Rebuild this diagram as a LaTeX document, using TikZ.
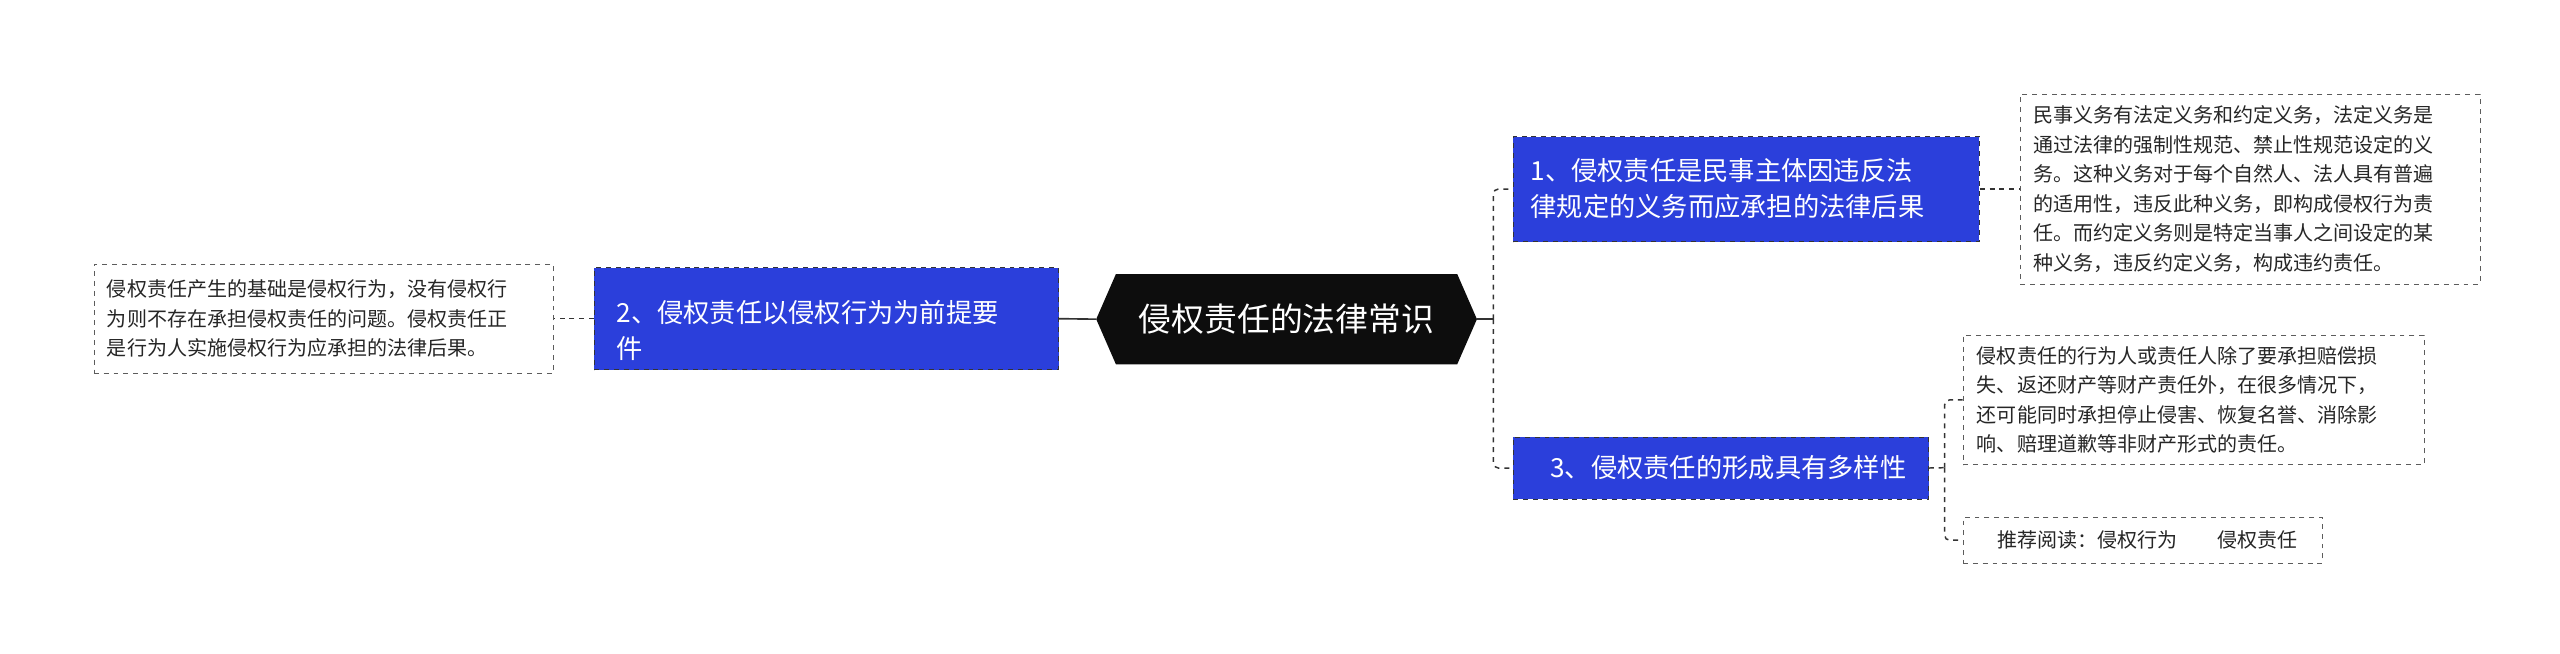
\documentclass[tikz,border=0pt]{standalone}
\usepackage{fontspec}
\setmainfont{Noto Sans CJK SC}
\usetikzlibrary{positioning}
\definecolor{bl}{HTML}{2B3FDB}
\definecolor{ln}{HTML}{333333}
\begin{document}
\begin{tikzpicture}[x=1pt,y=-1pt,
  blue/.style={draw=ln,dashed,fill=bl,text=white,font=\fontsize{16}{22}\selectfont,align=left,anchor=north west,inner sep=0pt},
  leaf/.style={draw=ln!80,dashed,fill=white,text=black!85,font=\fontsize{12.2}{18}\selectfont,align=left,anchor=north west,inner sep=0pt},
  con/.style={draw=ln,dashed,line width=0.9pt}]
\useasboundingbox (0,0) rectangle (1560,398);
% center
\fill[black!95] (680,167)--(888,167)--(900,194.5)--(888,222)--(680,222)--(668,194.5)--cycle;
\node[text=white,font=\fontsize{20}{24}\selectfont] (c) at (784,194.5) {侵权责任的法律常识};
\coordinate (cl) at (668,194.5); \coordinate (cr) at (900,194.5);
% left
\node[blue,minimum width=283pt,minimum height=62pt,text width=270pt,text depth=0pt] (b2) at (362,163) {\hspace*{7pt}\parbox{266pt}{2、侵权责任以侵权行为为前提要\\件}};
\node[leaf,minimum width=280pt,minimum height=66pt] (l2) at (57,161) {\hspace*{6pt}\parbox{270pt}{侵权责任产生的基础是侵权行为，没有侵权行\\为则不存在承担侵权责任的问题。侵权责任正\\是行为人实施侵权行为应承担的法律后果。}};
% right
\node[blue,minimum width=284pt,minimum height=64pt] (b1) at (922,83) {\hspace*{9pt}\parbox{272pt}{1、侵权责任是民事主体因违反法\\律规定的义务而应承担的法律后果}};
\node[leaf,minimum width=280pt,minimum height=116pt] (l1) at (1231,57) {\hspace*{6pt}\parbox{270pt}{民事义务有法定义务和约定义务，法定义务是\\通过法律的强制性规范、禁止性规范设定的义\\务。这种义务对于每个自然人、法人具有普遍\\的适用性，违反此种义务，即构成侵权行为责\\任。而约定义务则是特定当事人之间设定的某\\种义务，违反约定义务，构成违约责任。}};
\node[blue,minimum width=253pt,minimum height=38pt] (b3) at (922,266) {\hspace*{9pt}3、侵权责任的形成具有多样性};
\node[leaf,minimum width=281pt,minimum height=79pt] (l3) at (1196,204) {\hspace*{6pt}\parbox{270pt}{侵权责任的行为人或责任人除了要承担赔偿损\\失、返还财产等财产责任外，在很多情况下，\\还可能同时承担停止侵害、恢复名誉、消除影\\响、赔理道歉等非财产形式的责任。}};
\node[leaf,minimum width=219pt,minimum height=28pt] (l4) at (1196,315) {\hspace*{6pt}推荐阅读：侵权行为\hspace{2em}侵权责任};
% connectors
\draw[draw=ln,line width=1pt] (cl) -- (b2.east);
\draw[con] (b2.west) -- (l2.east);
\draw[draw=ln,line width=1pt] (cr) -- (910,194.5);
\draw[con,rounded corners=3pt] (910,194.5) |- (b1.west);
\draw[con,rounded corners=3pt] (910,194.5) |- (b3.west);
\draw[con] (b1.east) -- (l1.west);
\draw[con] (b3.east) -- (1185,285);
\draw[con,rounded corners=3pt] (1185,285) |- (l3.west);
\draw[con,rounded corners=3pt] (1185,285) |- (l4.west);
\end{tikzpicture}
\end{document}
